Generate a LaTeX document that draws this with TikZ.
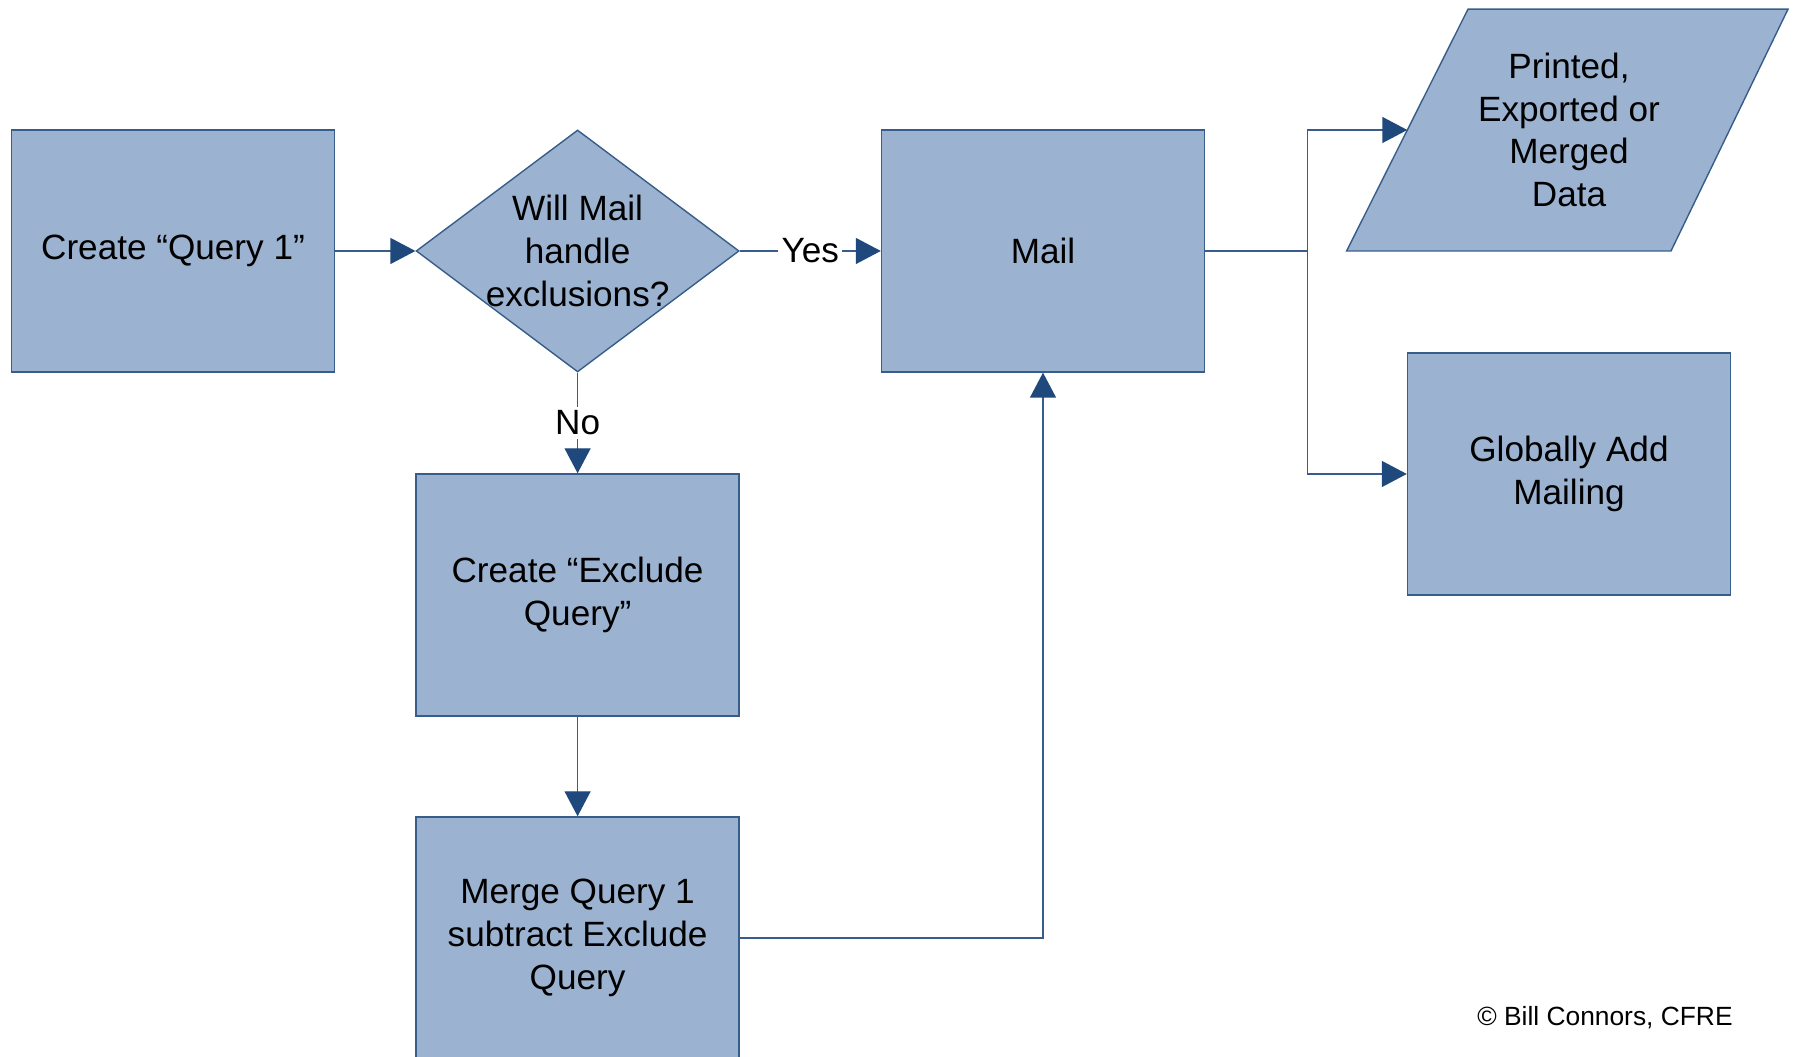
\documentclass[tikz,border=0pt]{standalone}
\usepackage{fontspec}
\setmainfont{Liberation Sans}
\usetikzlibrary{shapes.geometric,arrows.meta}
\definecolor{boxfill}{RGB}{155,179,209}
\definecolor{boxline}{RGB}{56,93,138}
\definecolor{tipblue}{RGB}{31,73,125}
\tikzset{
    RA1/.style ={rectangle,minimum width = 3.23cm, minimum height = 2.42cm, draw=boxline, fill=boxfill, align=center, font=\fontsize{10}{12.2}\selectfont},
    DM1/.style ={diamond,minimum width = 3.23cm, minimum height = 2.42cm, draw=boxline, fill=boxfill, inner sep=0pt},
    TX/.style ={align=center, font=\fontsize{10}{12.2}\selectfont},
    LB/.style ={fill=white, inner sep=1pt, font=\fontsize{10}{12.2}\selectfont},
    AR/.style ={draw=boxline, -{Triangle[length=2.5mm,width=2.6mm,color=tipblue]}}}

\begin{document}
\begin{tikzpicture}
        \useasboundingbox (0,0) rectangle (17.97,10.57);
        \node[RA1] (q1) at (1.73,8.06) {Create “Query 1”};
        \node[DM1] (dec) at (5.776,8.06) {};
        \node[TX] (dectxt) at (dec) {Will Mail\\handle\\exclusions?};
        \node[RA1] (mail) at (10.43,8.06) {Mail};
        \node[RA1] (excl) at (5.776,4.62) {Create “Exclude\\Query”};
        \node[RA1] (merge) at (5.776,1.19) {Merge Query 1\\subtract Exclude\\Query};
        \node[RA1] (glob) at (15.69,5.83) {Globally Add\\Mailing};
        \draw[boxline,fill=boxfill] (13.466,8.06) -- (14.68,10.478) -- (17.88,10.478) -- (16.71,8.06) -- cycle;
        \coordinate (outin) at (14.073,9.27);
        \node[TX] (out) at (15.69,9.27) {Printed,\\Exported or\\Merged\\Data};
        \draw[AR] (q1.east) -- (dec.west);
        \draw[AR] (dec.east) -- node[LB] (yes) {Yes} (mail.west);
        \draw[AR] (dec.south) -- node[LB] (no) {No} (excl.north);
        \draw[AR] (excl.south) -- (merge.north);
        \draw[AR] (merge.east) -| (mail.south);
        \draw[AR] (mail.east) -- ++(1.02,0) coordinate (split) |- (outin);
        \draw[AR] (split) |- (glob.west);
        \node[font=\fontsize{7.5}{9}\selectfont] (copy) at (16.05,0.39) {© Bill Connors, CFRE};
    \end{tikzpicture}
\end{document}
